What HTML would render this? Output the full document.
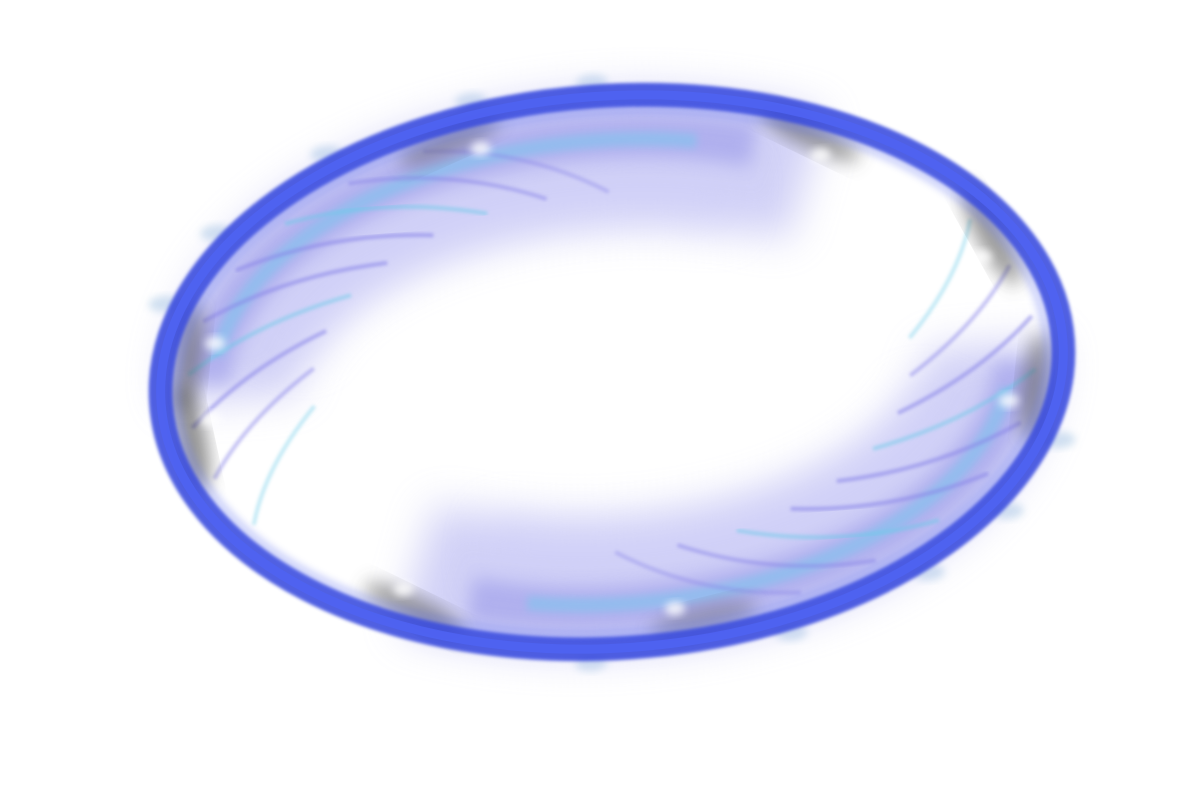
<!DOCTYPE html>
<html><head><meta charset="utf-8"><style>
html,body{margin:0;padding:0;background:#fff;width:1200px;height:800px;overflow:hidden}
</style></head><body>
<svg id="viz" width="1200" height="800" viewBox="0 0 1200 800" xmlns="http://www.w3.org/2000/svg">
<defs>
<filter id="b30" x="-30%" y="-30%" width="160%" height="160%"><feGaussianBlur stdDeviation="20"/></filter>
<filter id="b12" x="-30%" y="-30%" width="160%" height="160%"><feGaussianBlur stdDeviation="9"/></filter>
<filter id="b5" x="-30%" y="-30%" width="160%" height="160%"><feGaussianBlur stdDeviation="4"/></filter>
<filter id="b2"><feGaussianBlur stdDeviation="1.5"/></filter>
</defs>
<g transform="translate(612 372) rotate(-4)">
  <g id="fringe"></g>
  <g>
    <ellipse rx="380" ry="215" pathLength="360" fill="none" stroke="#b8b8f2" stroke-width="130" opacity="0.65" filter="url(#b30)" stroke-dasharray="130 50 130 50" stroke-dashoffset="0"/>
    <ellipse rx="340" ry="180" pathLength="360" fill="none" stroke="#cfcff8" stroke-width="70" opacity="0.5" filter="url(#b30)" stroke-dasharray="110 70 110 70" stroke-dashoffset="-10"/>
    <ellipse rx="405" ry="236" pathLength="360" fill="none" stroke="#9090e6" stroke-width="45" opacity="0.5" filter="url(#b12)" stroke-dasharray="115 65 115 65" stroke-dashoffset="-3"/>
    <ellipse rx="400" ry="232" pathLength="360" fill="none" stroke="#7cc6ee" stroke-width="14" opacity="0.55" filter="url(#b5)" stroke-dasharray="100 80 100 80" stroke-dashoffset="-8"/>
  </g>
  <g id="wisps"></g>
  <g id="smudges"></g>
  <g>
    <ellipse rx="452" ry="276" fill="none" stroke="#3344dd" stroke-width="24" opacity="0.85" filter="url(#b2)"/>
    <ellipse rx="452" ry="276" fill="none" stroke="#4f63f2" stroke-width="9" opacity="0.9"/>
    <ellipse rx="436" ry="261" fill="none" stroke="#5a6cf0" stroke-width="6" opacity="0.4" filter="url(#b5)"/>
  </g>
</g>
</svg>
<script>
const wispAngles = [150, 162, 174, 186, 198, 210, 222, 234, 246, -30, -18, -6, 6, 18, 30, 42, 54, 66];
const wispWeights = [0.4, 0.5, 0.6, 0.5, 0.6, 0.6, 0.5, 0.5, 0.4, 0.4, 0.5, 0.6, 0.5, 0.6, 0.6, 0.5, 0.5, 0.4];
const smudgeAngles = [172, 190, 250, 300, 335, 10, 80, 120];
const smudgeStrength = [0.6, 0.5, 0.4, 0.5, 0.55, 0.5, 0.35, 0.5];
const fringeAngles = [200, 215, 235, 255, 270, 20, 35, 50, 70, 95];
const NS = 'http://www.w3.org/2000/svg';
const fg = document.getElementById('fringe');
fringeAngles.forEach((a) => {
  const r = a * Math.PI / 180;
  const e = document.createElementNS(NS, 'ellipse');
  e.setAttribute('cx', 470 * Math.cos(r));
  e.setAttribute('cy', 290 * Math.sin(r));
  e.setAttribute('rx', 16);
  e.setAttribute('ry', 8);
  e.setAttribute('fill', '#9cc0e0');
  e.setAttribute('opacity', 0.45);
  e.setAttribute('filter', 'url(#b5)');
  
  
  fg.appendChild(e);
});
const wg = document.getElementById('wisps');
wispAngles.forEach((a, i) => {
  const r = a * Math.PI / 180;
  const p = document.createElementNS(NS, 'path');
  const x1 = 425 * Math.cos(r), y1 = 255 * Math.sin(r);
  const x2 = 300 * Math.cos(r + 0.45), y2 = 180 * Math.sin(r + 0.45);
  const cx = 370 * Math.cos(r + 0.22), cy = 235 * Math.sin(r + 0.22);
  p.setAttribute('d', `M${x1} ${y1} Q${cx} ${cy} ${x2} ${y2}`);
  p.setAttribute('fill', 'none');
  p.setAttribute('stroke', i % 3 === 0 ? '#6ccbe8' : '#8a86e8');
  p.setAttribute('stroke-width', 4);
  p.setAttribute('opacity', wispWeights[i]);
  p.setAttribute('filter', 'url(#b2)');
  
  
  wg.appendChild(p);
});
const sg = document.getElementById('smudges');
smudgeAngles.forEach((a, i) => {
  const r = a * Math.PI / 180;
  const x = 428 * Math.cos(r), y = 258 * Math.sin(r);
  const e = document.createElementNS(NS, 'ellipse');
  e.setAttribute('cx', x);
  e.setAttribute('cy', y);
  e.setAttribute('rx', 14);
  e.setAttribute('ry', 55);
  e.setAttribute('transform', `rotate(${a} ${x} ${y})`);
  e.setAttribute('fill', '#444');
  e.setAttribute('opacity', smudgeStrength[i]);
  e.setAttribute('filter', 'url(#b12)');
  
  
  sg.appendChild(e);
  const w = document.createElementNS(NS, 'ellipse');
  w.setAttribute('cx', 405 * Math.cos(r + 0.06));
  w.setAttribute('cy', 242 * Math.sin(r + 0.06));
  w.setAttribute('rx', 10);
  w.setAttribute('ry', 7);
  w.setAttribute('fill', '#fff');
  w.setAttribute('opacity', 0.8);
  w.setAttribute('filter', 'url(#b5)');
  
  
  sg.appendChild(w);
});
</script>
</body></html>
